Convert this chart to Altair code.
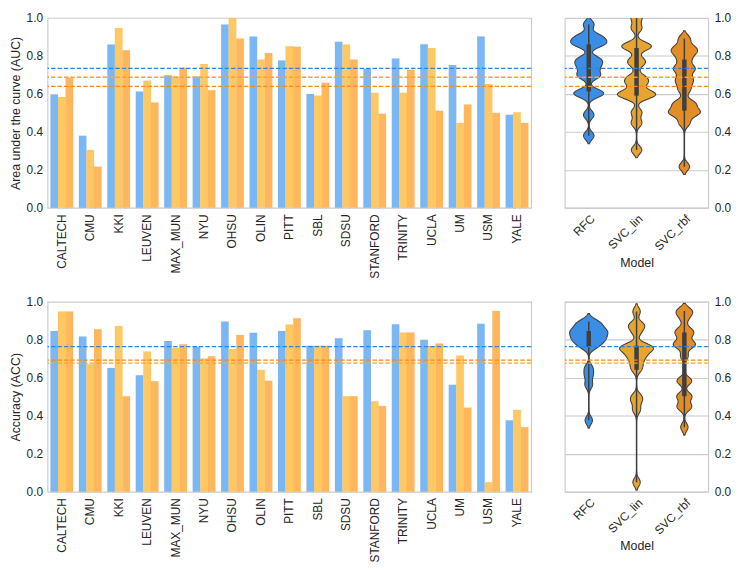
import altair as alt
import pandas as pd

sites = ["CALTECH", "CMU", "KKI", "LEUVEN", "MAX_MUN", "NYU", "OHSU", "OLIN", "PITT",
         "SBL", "SDSU", "STANFORD", "TRINITY", "UCLA", "UM", "USM", "YALE"]
models = ["RFC", "SVC_lin", "SVC_rbf"]

auc_rfc = [0.598, 0.380, 0.860, 0.613, 0.699, 0.692, 0.966, 0.902, 0.776, 0.599, 0.875, 0.733, 0.786, 0.861, 0.753, 0.902, 0.490]
auc_lin = [0.584, 0.305, 0.947, 0.670, 0.692, 0.757, 1.000, 0.781, 0.851, 0.591, 0.860, 0.606, 0.606, 0.842, 0.447, 0.652, 0.503]
auc_rbf = [0.685, 0.217, 0.830, 0.555, 0.738, 0.620, 0.892, 0.815, 0.849, 0.659, 0.781, 0.495, 0.728, 0.512, 0.545, 0.500, 0.447]

acc_rfc = [0.846, 0.817, 0.652, 0.613, 0.794, 0.764, 0.897, 0.837, 0.846, 0.769, 0.808, 0.851, 0.882, 0.800, 0.563, 0.884, 0.376]
acc_lin = [0.949, 0.671, 0.873, 0.738, 0.757, 0.702, 0.752, 0.642, 0.880, 0.769, 0.503, 0.477, 0.839, 0.767, 0.717, 0.050, 0.431]
acc_rbf = [0.949, 0.856, 0.503, 0.582, 0.776, 0.714, 0.825, 0.585, 0.914, 0.769, 0.503, 0.452, 0.839, 0.781, 0.443, 0.952, 0.340]

ticks = [0.0, 0.2, 0.4, 0.6, 0.8, 1.0]

bar_colors = ["#79b8f6", "#ffc862", "#ffb75e"]
violin_colors = ["#3a8ee6", "#e7a431", "#e58d25"]
line_colors = ["#2f84de", "#f2a630", "#f08c22"]

FONT = "Liberation Sans"
BW = 0.021
BAR_W, VIO_W, H = 489, 145, 192


def long_df(r, l, b):
    rows = []
    for m, vals in zip(models, [r, l, b]):
        for s, v in zip(sites, vals):
            rows.append({"site": s, "model": m, "value": v})
    return pd.DataFrame(rows)


IDX = "indexof(['RFC','SVC_lin','SVC_rbf'], datum.model)"


def row(df, ytitle):
    ysc = alt.Scale(domain=[0, 1])
    bars = alt.Chart(df).mark_bar(stroke="#f0a040", strokeOpacity=0.15, strokeWidth=0.6).encode(
        x=alt.X("site:N", sort=sites, title=None,
                scale=alt.Scale(paddingInner=0.2, paddingOuter=0.1),
                axis=alt.Axis(labelAngle=-90, ticks=False, domain=False, labelPadding=6)),
        xOffset=alt.XOffset("model:N", sort=models, scale=alt.Scale(paddingInner=0, paddingOuter=0)),
        y=alt.Y("value:Q", scale=ysc, title=ytitle,
                axis=alt.Axis(values=ticks, tickCount=12, format=".1f", ticks=False,
                              domain=False, grid=False, labelPadding=5, titlePadding=4)),
        color=alt.Color("model:N", scale=alt.Scale(domain=models, range=bar_colors), legend=None),
    )
    means = alt.Chart(df).transform_aggregate(m="mean(value)", groupby=["model"]).mark_rule(
        strokeDash=[4.5, 2], strokeWidth=1.3).encode(
        y=alt.Y("m:Q", scale=ysc),
        color=alt.Color("model:N", scale=alt.Scale(domain=models, range=line_colors), legend=None),
    )
    left = alt.layer(bars, means).resolve_scale(color="independent").properties(width=BAR_W, height=H)

    vsc = alt.Scale(domain=[0, 1])
    xsc = alt.Scale(domain=[-0.5, 2.5], nice=False, zero=False)
    violin = alt.Chart(df).transform_joinaggregate(
        lo="min(value)", hi="max(value)", groupby=["model"]
    ).transform_density(
        "value", groupby=["model", "lo", "hi"], as_=["v", "density"],
        extent=[-0.1, 1.1], steps=600, bandwidth=BW
    ).transform_filter(
        f"datum.v >= datum.lo - {2*BW} && datum.v <= datum.hi + {2*BW}"
    ).transform_joinaggregate(dmax="max(density)").transform_calculate(
        idx=IDX
    ).transform_calculate(
        xl="datum.idx - 0.4 * datum.density / datum.dmax",
        xr="datum.idx + 0.4 * datum.density / datum.dmax",
    ).mark_area(orient="horizontal", clip=True, stroke="#404040", strokeWidth=1.1).encode(
        y=alt.Y("v:Q", scale=vsc, title=None,
                axis=alt.Axis(orient="right", values=ticks, tickCount=12, format=".1f",
                              ticks=False, domain=False, grid=True, gridColor="#cccccc",
                              gridWidth=1.1, labelPadding=6)),
        x=alt.X("xl:Q", scale=xsc, title="Model",
                axis=alt.Axis(values=[0, 1, 2], tickCount=5,
                              labelExpr="['RFC','SVC_lin','SVC_rbf'][datum.value]",
                              labelAngle=-45, ticks=False, domain=False, grid=False, labelPadding=5,
                              titlePadding=4)),
        x2="xr:Q",
        color=alt.Color("model:N", scale=alt.Scale(domain=models, range=violin_colors), legend=None),
    )
    stats = alt.Chart(df).transform_aggregate(
        q1="q1(value)", q3="q3(value)", lo="min(value)", hi="max(value)",
        groupby=["model"]
    ).transform_calculate(idx=IDX)
    whisk = stats.mark_rule(color="#3f3f3f", strokeWidth=1.5).encode(
        x=alt.X("idx:Q", scale=xsc), y=alt.Y("lo:Q", scale=vsc), y2="hi:Q")
    box = stats.mark_rule(color="#3f3f3f", strokeWidth=4.5).encode(
        x=alt.X("idx:Q", scale=xsc), y=alt.Y("q1:Q", scale=vsc), y2="q3:Q")
    vmeans = alt.Chart(df).transform_aggregate(m="mean(value)", groupby=["model"]).mark_rule(
        strokeDash=[4.5, 2], strokeWidth=1.3).encode(
        y=alt.Y("m:Q", scale=vsc),
        color=alt.Color("model:N", scale=alt.Scale(domain=models, range=line_colors), legend=None),
    )
    right = alt.layer(violin, whisk, box, vmeans).resolve_scale(color="independent").properties(
        width=VIO_W, height=H)
    return alt.hconcat(left, right, spacing=30)


top = row(long_df(auc_rfc, auc_lin, auc_rbf), "Area under the curve (AUC)")
bottom = row(long_df(acc_rfc, acc_lin, acc_rbf), "Accuracy (ACC)")

chart = alt.vconcat(top, bottom, spacing=16).properties(
    padding={"left": 0, "top": 0, "right": 0, "bottom": 0},
    background="white"
).configure_view(
    stroke="#cccccc", strokeWidth=1.2
).configure_axis(
    labelFont=FONT, titleFont=FONT, labelFontSize=12, titleFontSize=12.5,
    labelColor="#262626", titleColor="#262626", titleFontWeight="normal"
)

chart.save("out.html", embed_options={"renderer": "svg", "actions": False})
